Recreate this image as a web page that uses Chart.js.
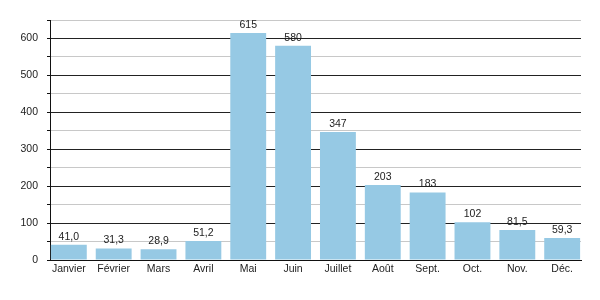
<!DOCTYPE html>
<html><head><meta charset="utf-8">
<script src="https://cdn.jsdelivr.net/npm/chart.js@4"></script>
<style>html,body{margin:0;padding:0;background:#fff}#w{width:600px;height:300px}</style>
</head><body><div id="w"><canvas id="c" width="600" height="300"></canvas></div>
<script>
const categories = ["Janvier","Février","Mars","Avril","Mai","Juin","Juillet","Août","Sept.","Oct.","Nov.","Déc."];
const values = [41.0, 31.3, 28.9, 51.2, 615, 580, 347, 203, 183, 102, 81.5, 59.3];
const valueLabels = ["41,0","31,3","28,9","51,2","615","580","347","203","183","102","81,5","59,3"];
const yTicks = [0,100,200,300,400,500,600];

const FONT = '"Liberation Sans", Arial, sans-serif';

const labelPlugin = {
  id:'vlabels',
  afterDatasetsDraw(chart){
    const ctx = chart.ctx;
    const meta = chart.getDatasetMeta(0);
    ctx.save();
    ctx.font = '10.5px ' + FONT;
    ctx.fillStyle = '#222';
    ctx.textAlign = 'center';
    ctx.textBaseline = 'alphabetic';
    meta.data.forEach((bar,i)=>{
      ctx.fillText(valueLabels[i], bar.x, bar.y - 5);
    });
    ctx.restore();
  }
};

new Chart(document.getElementById('c'), {
  type:'bar',
  data:{datasets:[{data:values.map((v,i)=>({x:i,y:v})), backgroundColor:'#96c9e4', borderWidth:0, barPercentage:0.8, categoryPercentage:1}]},
  options:{
    responsive:false, animation:false,
    layout:{padding:{left:0,right:19,top:20,bottom:0}},
    plugins:{legend:{display:false}, tooltip:{enabled:false}},
    scales:{
      x:{
        type:'linear', min:-0.42, max:11.42, offset:false,
        afterBuildTicks(s){ s.ticks = categories.map((c,i)=>({value:i})); },
        grid:{display:false, drawTicks:false},
        border:{color:'#111', width:1},
        ticks:{color:'#222', font:{family:FONT, size:10.5}, padding:3, maxRotation:0, autoSkip:false,
          callback:(v)=> categories[v] ?? ''},
        afterFit(s){ s.height = 40; }
      },
      y:{
        min:0, max:650,
        afterBuildTicks(s){ const t=[]; for(let v=0; v<=650; v+=50) t.push({value:v}); s.ticks=t; },
        grid:{
          color:(c)=> (c.tick && c.tick.value % 100 === 0) ? '#222' : '#c8c8c8',
          tickColor:'#111', tickLength:3, lineWidth:1
        },
        border:{color:'#111', width:1},
        ticks:{color:'#222', font:{family:FONT, size:10.5}, padding:9,
          callback:(v)=> yTicks.includes(v) ? String(v) : ''},
        afterFit(s){ s.width = 50; }
      }
    }
  },
  plugins:[labelPlugin]
});
</script></body></html>
